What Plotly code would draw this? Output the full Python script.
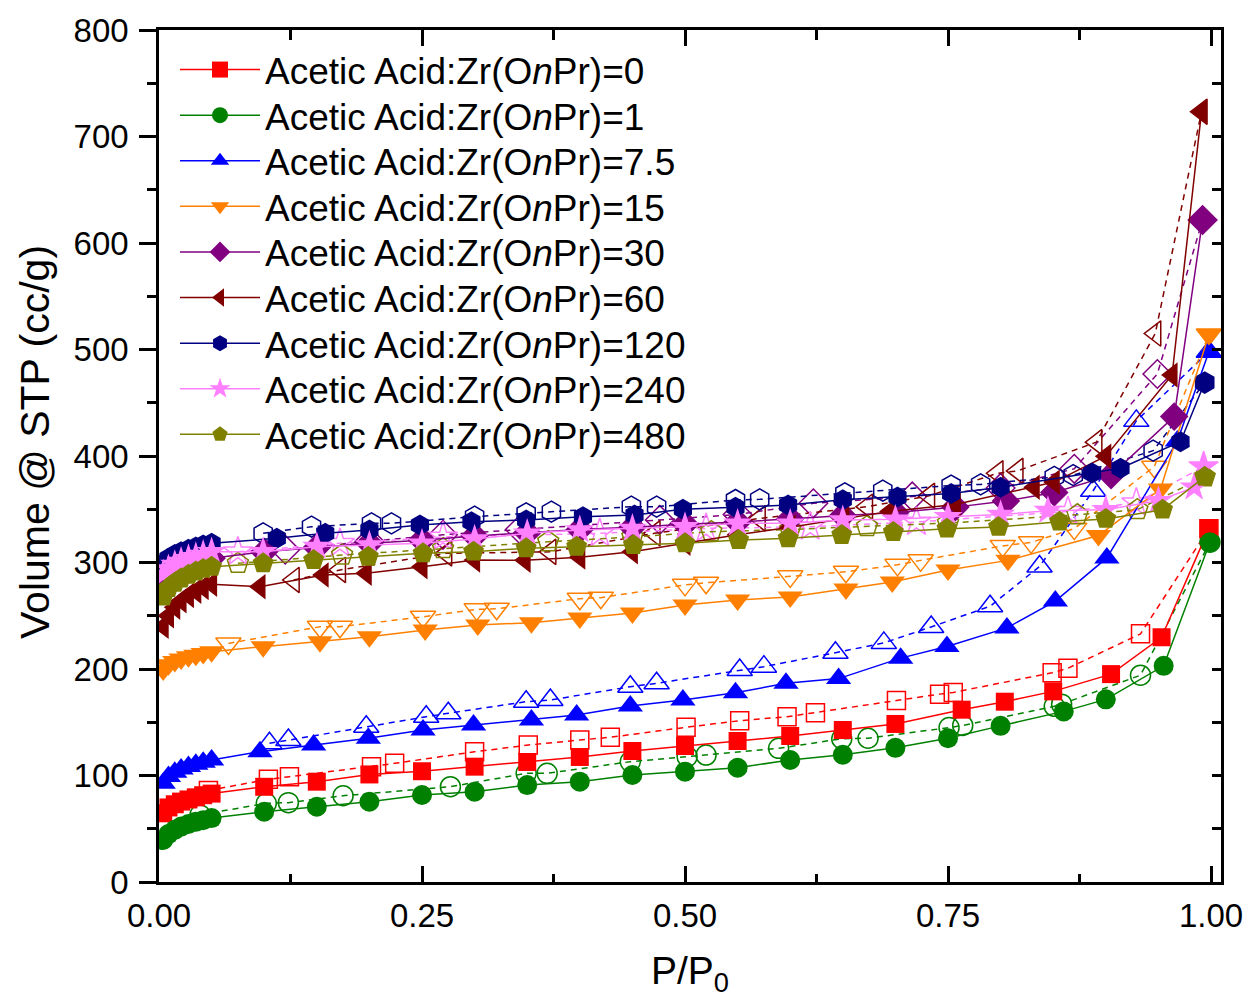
import plotly.graph_objects as go

# ---------------- data ----------------
labels = ["0", "1", "7.5", "15", "30", "60", "120", "240", "480"]
colors = ["#FF0000", "#008000", "#0000FF", "#FF8000", "#800080",
          "#800000", "#000080", "#FF80FF", "#808000"]
symbols = ["square", "circle", "triangle-up", "triangle-down", "diamond",
           "triangle-left", "hexagon", "star", "pentagon"]

p_low = [0.004, 0.009, 0.015, 0.021, 0.028, 0.035, 0.042, 0.05]

# ratio 0
p_ads_0 = p_low + [0.10, 0.15, 0.20, 0.25, 0.30, 0.35, 0.40, 0.45, 0.50, 0.55, 0.60, 0.65, 0.70, 0.763, 0.804, 0.85, 0.905, 0.953, 0.998]
v_ads_0 = [64.5, 70, 73, 75.5, 77.5, 79.5, 81.5, 83, 89.4, 94.2, 101, 104, 108.3, 112.7, 117.4, 123, 127.7, 132.4, 137.1, 142.7, 148.4, 161.8, 169.3, 179, 195.2, 229.8, 331.8]
p_des_0 = [0.047, 0.104, 0.124, 0.202, 0.224, 0.300, 0.351, 0.400, 0.429, 0.501, 0.552, 0.597, 0.624, 0.701, 0.742, 0.755, 0.849, 0.864, 0.933, 0.998]
v_des_0 = [86, 96.4, 98.9, 108.3, 111.4, 122.3, 128.6, 133.3, 135.9, 145.3, 151.5, 155.2, 159, 170.4, 176.4, 178, 196.5, 200.7, 233, 331.8]

# ratio 1
p_ads_1 = p_low + [0.10, 0.15, 0.20, 0.25, 0.30, 0.35, 0.40, 0.45, 0.50, 0.55, 0.60, 0.65, 0.70, 0.75, 0.80, 0.86, 0.90, 0.955, 0.999]
v_ads_1 = [39.4, 45, 49, 52, 54.5, 56.5, 58, 60, 66, 70.7, 75.4, 81.7, 84.8, 91, 94.2, 100.5, 103.6, 107.3, 114.6, 119.5, 126, 135, 146.6, 160.2, 171.5, 203, 319]
p_des_1 = [0.039, 0.102, 0.123, 0.175, 0.277, 0.349, 0.369, 0.448, 0.502, 0.52, 0.589, 0.649, 0.674, 0.751, 0.764, 0.851, 0.858, 0.933, 0.999]
v_des_1 = [63, 73.9, 74.5, 81, 89.5, 102, 102, 113, 117.7, 119.2, 125.5, 134.5, 135, 145, 147, 165, 167, 194.2, 319]

# ratio 7.5
p_ads_2 = p_low + [0.096, 0.147, 0.199, 0.251, 0.299, 0.354, 0.397, 0.448, 0.498, 0.548, 0.596, 0.646, 0.705, 0.749, 0.806, 0.852, 0.901, 0.968, 0.998]
v_ads_2 = [92.7, 99, 103, 106, 108.5, 110.5, 112.5, 114.6, 122.4, 128.6, 134.9, 142.7, 147.4, 152.1, 156.8, 165.3, 170.9, 177.7, 186.6, 191, 210.2, 221.1, 238.6, 263.8, 304.3, 414, 498]
p_des_2 = [0.105, 0.123, 0.197, 0.254, 0.275, 0.349, 0.372, 0.448, 0.473, 0.552, 0.575, 0.643, 0.689, 0.734, 0.79, 0.837, 0.888, 0.929, 0.998]
v_des_2 = [130.2, 133.3, 145.8, 155.2, 158.4, 169.3, 170.9, 183.4, 186.6, 199, 202.2, 215.3, 224.5, 239.5, 258.9, 296.2, 367.4, 433, 498]

# ratio 15
p_ads_3 = p_low + [0.099, 0.153, 0.200, 0.253, 0.303, 0.354, 0.40, 0.45, 0.50, 0.55, 0.60, 0.653, 0.697, 0.75, 0.807, 0.893, 0.952, 0.998]
v_ads_3 = [199, 204, 207, 209.5, 211.5, 213, 214.5, 216.2, 221, 225.6, 230.3, 236.6, 241.3, 243.5, 248, 252.6, 260, 264.8, 267.6, 275.1, 281.6, 293, 302, 325.3, 369, 514]
p_des_3 = [0.066, 0.153, 0.172, 0.251, 0.302, 0.321, 0.40, 0.42, 0.50, 0.52, 0.60, 0.653, 0.702, 0.724, 0.802, 0.829, 0.87, 0.946, 0.998]
v_des_3 = [224, 239.7, 239.7, 249, 256, 256.5, 266, 267, 279, 281, 287, 291.3, 297.8, 302, 315.6, 318.9, 331.8, 390, 514]

# ratio 30
p_ads_4 = p_low + [0.10, 0.15, 0.20, 0.25, 0.30, 0.35, 0.40, 0.45, 0.50, 0.55, 0.60, 0.65, 0.70, 0.757, 0.805, 0.851, 0.905, 0.965, 0.992]
v_ads_4 = [278, 286, 291, 295, 298, 300, 302, 304, 310, 314, 318, 321, 325, 328, 331, 333, 336, 338, 341, 344, 347, 352, 357.7, 365.8, 382, 437, 621.6]
p_des_4 = [0.12, 0.20, 0.27, 0.343, 0.476, 0.55, 0.622, 0.716, 0.80, 0.87, 0.949, 0.992]
v_des_4 = [312, 320, 326, 331, 340, 345, 355.6, 362, 370, 388, 477, 621.6]

# ratio 60
p_ads_5 = p_low + [0.096, 0.156, 0.197, 0.25, 0.30, 0.348, 0.40, 0.45, 0.50, 0.55, 0.60, 0.651, 0.695, 0.757, 0.832, 0.851, 0.90, 0.963, 0.991]
v_ads_5 = [240, 250, 258, 264, 269, 273, 276.5, 279.5, 277.3, 288.3, 289.9, 296, 302.3, 302, 305, 310, 318, 326, 333, 341, 348, 354.5, 370.7, 375.5, 399.8, 476, 723.3]
p_des_5 = [0.128, 0.172, 0.273, 0.372, 0.471, 0.571, 0.673, 0.732, 0.797, 0.816, 0.891, 0.947, 0.991]
v_des_5 = [283.6, 293, 308.6, 310, 327.4, 341.4, 352.4, 362.6, 383.8, 386, 413, 515, 723.3]

# ratio 120
p_ads_6 = p_low + [0.112, 0.158, 0.200, 0.248, 0.297, 0.349, 0.403, 0.452, 0.498, 0.548, 0.598, 0.65, 0.702, 0.753, 0.800, 0.887, 0.914, 0.971, 0.994]
v_ads_6 = [299, 304, 307.5, 310, 312.5, 314.5, 316.5, 318, 322.7, 327.4, 330.5, 335.2, 338.3, 339.9, 343, 344.6, 350, 351.8, 354, 359, 361.6, 364.8, 370.7, 384, 388.5, 413.4, 469]
p_des_6 = [0.099, 0.145, 0.202, 0.221, 0.300, 0.349, 0.373, 0.449, 0.473, 0.548, 0.571, 0.652, 0.688, 0.753, 0.781, 0.851, 0.869, 0.945, 0.994]
v_des_6 = [327.4, 333.6, 336.8, 336.8, 343, 346.2, 347.7, 352.4, 352.4, 358.7, 359.3, 365, 367.4, 372.3, 373.3, 380.4, 382, 405, 469]

# ratio 240
p_ads_7 = p_low + [0.099, 0.150, 0.200, 0.250, 0.30, 0.35, 0.40, 0.45, 0.50, 0.55, 0.60, 0.65, 0.70, 0.75, 0.80, 0.845, 0.90, 0.95, 0.984, 0.993]
v_ads_7 = [289, 294, 298, 301, 303.5, 305.5, 307.5, 310, 310.2, 314.9, 316.4, 318, 322, 327.4, 330.5, 332, 333.6, 336.8, 336.8, 340, 340.5, 343, 345, 348.7, 349.6, 358, 370.7, 390]
p_des_7 = [0.075, 0.172, 0.27, 0.419, 0.52, 0.619, 0.72, 0.864, 0.929, 0.993]
v_des_7 = [310, 318, 324, 327.4, 332, 333.6, 338, 348, 356, 390]

# ratio 480
p_ads_8 = p_low + [0.099, 0.147, 0.199, 0.251, 0.299, 0.349, 0.397, 0.451, 0.50, 0.551, 0.598, 0.649, 0.698, 0.749, 0.798, 0.856, 0.90, 0.954, 0.994]
v_ads_8 = [268, 276, 281, 285, 288.5, 291.5, 294, 296, 299.2, 302.3, 305.4, 308.6, 310.2, 313.3, 314.8, 316.4, 318, 321.1, 322.7, 325.8, 328.6, 331.8, 333.4, 338.3, 340.9, 349.6, 380.4]
p_des_8 = [0.075, 0.174, 0.27, 0.37, 0.45, 0.525, 0.60, 0.673, 0.75, 0.873, 0.93, 0.994]
v_des_8 = [299.2, 307, 313, 319.5, 324, 328.9, 331, 333.6, 337, 344.8, 349.6, 380.4]

p_ads = [p_ads_0, p_ads_1, p_ads_2, p_ads_3, p_ads_4, p_ads_5, p_ads_6, p_ads_7, p_ads_8]
v_ads = [v_ads_0, v_ads_1, v_ads_2, v_ads_3, v_ads_4, v_ads_5, v_ads_6, v_ads_7, v_ads_8]
p_des = [p_des_0, p_des_1, p_des_2, p_des_3, p_des_4, p_des_5, p_des_6, p_des_7, p_des_8]
v_des = [v_des_0, v_des_1, v_des_2, v_des_3, v_des_4, v_des_5, v_des_6, v_des_7, v_des_8]

x_ticks = [0.0, 0.25, 0.5, 0.75, 1.0]
x_ticklabels = ["0.00", "0.25", "0.50", "0.75", "1.00"]
y_ticks = [0, 100, 200, 300, 400, 500, 600, 700, 800]

# ---------------- figure ----------------
FONT = "Liberation Sans, Arial, sans-serif"
sizes = [18, 20, 22, 22, 22, 22, 21, 22, 22]

W, H = 1246, 1007
M_L, M_R, M_T, M_B = 159, 25, 30, 125
plot_h = H - M_T - M_B
plot_w = W - M_L - M_R

fig = go.Figure()
for i, lab in enumerate(labels):
    fig.add_trace(go.Scatter(
        x=p_des[i], y=v_des[i], mode="lines+markers",
        line=dict(color=colors[i], width=1.5, dash="6px,5px"),
        marker=dict(symbol=symbols[i] + "-open", size=sizes[i], color=colors[i],
                    line=dict(color=colors[i], width=1.5)),
        showlegend=False))

legend_layouts = {}
for i, lab in enumerate(labels):
    lname = "legend" if i == 0 else "legend%d" % (i + 1)
    fig.add_trace(go.Scatter(
        x=p_ads[i], y=v_ads[i], mode="lines+markers",
        name="Acetic Acid:Zr(O<i>n</i>Pr)=" + lab,
        line=dict(color=colors[i], width=1.5),
        marker=dict(symbol=symbols[i], size=sizes[i], color=colors[i],
                    line=dict(width=0)),
        legend=lname))
    row_y = 70 + 45.6 * i                      # pixel row centre of the legend entry
    legend_layouts[lname] = dict(
        x=(175 - M_L) / plot_w, y=1 - (row_y - M_T) / plot_h,
        xanchor="left", yanchor="middle",
        bgcolor="rgba(0,0,0,0)", borderwidth=0,
        font=dict(size=37, family=FONT, color="black"),
        itemwidth=80)

# dummy trace for the mirrored top/right axes
fig.add_trace(go.Scatter(x=[None], y=[None], xaxis="x2", yaxis="y2",
                         showlegend=False, hoverinfo="skip"))

fig.add_annotation(text="Volume @ STP (cc/g)", textangle=-90,
                   xref="paper", yref="paper",
                   x=(35 - M_L) / plot_w, y=1 - (442 - M_T) / plot_h,
                   xanchor="center", yanchor="middle", showarrow=False,
                   font=dict(size=41, family=FONT, color="black"))

fig.update_layout(
    width=W, height=H,
    margin=dict(l=M_L, r=M_R, t=M_T, b=M_B, autoexpand=False),
    paper_bgcolor="white", plot_bgcolor="white",
    font=dict(family=FONT, color="black"),
    showlegend=True,
    xaxis=dict(range=[0, 1.0095], tickvals=x_ticks, ticktext=x_ticklabels,
               automargin=False,
               ticks="inside", ticklen=16, tickwidth=2.5, tickcolor="black",
               minor=dict(dtick=0.125, tick0=0, ticks="inside", ticklen=8,
                          tickwidth=2.5, tickcolor="black"),
               showline=True, linewidth=2.5, linecolor="black", mirror=True,
               showgrid=False, zeroline=False,
               tickfont=dict(size=33, family=FONT), ticklabelstandoff=3,
               title=dict(text="P/P<sub>0</sub>", font=dict(size=39, family=FONT),
                          standoff=24)),
    yaxis=dict(range=[0, 800], tickvals=y_ticks, automargin=False,
               ticks="outside", ticklen=17, tickwidth=2.5, tickcolor="black",
               minor=dict(dtick=50, tick0=0, ticks="outside", ticklen=9,
                          tickwidth=2.5, tickcolor="black"),
               showline=True, linewidth=2.5, linecolor="black", mirror=True,
               showgrid=False, zeroline=False,
               tickfont=dict(size=33, family=FONT), ticklabelstandoff=4),
    xaxis2=dict(range=[0, 1.0095], overlaying="x", side="top", anchor="y2",
                tickvals=x_ticks, showticklabels=False, automargin=False,
                ticks="inside", ticklen=16, tickwidth=2.5, tickcolor="black",
                minor=dict(dtick=0.125, tick0=0, ticks="inside", ticklen=10,
                           tickwidth=2.5, tickcolor="black"),
                showline=False, showgrid=False, zeroline=False),
    yaxis2=dict(range=[0, 800], overlaying="y", side="right", anchor="x2",
                dtick=50, tick0=0, showticklabels=False, automargin=False,
                ticks="inside", ticklen=9, tickwidth=2.5, tickcolor="black",
                showline=False, showgrid=False, zeroline=False),
    **legend_layouts
)

fig.write_html("out.html")
